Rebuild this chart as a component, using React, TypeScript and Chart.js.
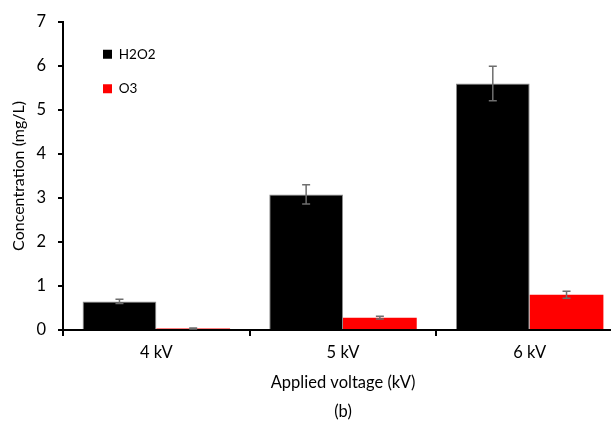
import React, { useEffect, useRef } from "react";
import { Chart, registerables } from "chart.js";

Chart.register(...registerables);

const categories = ["4 kV", "5 kV", "6 kV"];
const h2o2 = [0.65, 3.08, 5.6];
const o3 = [0.035, 0.28, 0.8];
const errH2O2 = [0.05, 0.22, 0.39];
const errO3 = [0.01, 0.03, 0.08];
const yTicks = [0, 1, 2, 3, 4, 5, 6, 7];

const FONT = "Lato, 'Open Sans', sans-serif";

export default function App() {
  const ref = useRef<HTMLCanvasElement | null>(null);
  useEffect(() => {
    if (!ref.current) return;
    const errors = [errH2O2, errO3];
    const errorBars = {
      id: "errorBars",
      afterDatasetsDraw(chart: any) {
        const ctx = chart.ctx;
        const ys = chart.scales.y;
        ctx.save();
        ctx.strokeStyle = "#6e6e6e";
        ctx.lineWidth = 1.5;
        chart.data.datasets.forEach((ds: any, i: number) => {
          const meta = chart.getDatasetMeta(i);
          meta.data.forEach((bar: any, j: number) => {
            const v = ds.data[j];
            const e = errors[i][j];
            const t = ys.getPixelForValue(v + e);
            const b = ys.getPixelForValue(v - e);
            const x = bar.x;
            ctx.beginPath();
            ctx.moveTo(x, t);
            ctx.lineTo(x, b);
            ctx.moveTo(x - 4, t);
            ctx.lineTo(x + 4, t);
            ctx.moveTo(x - 4, b);
            ctx.lineTo(x + 4, b);
            ctx.stroke();
          });
        });
        ctx.restore();
      },
    };
    const legendPlace = {
      id: "legendPlace",
      afterLayout(chart: any) {
        const l = chart.legend;
        if (!l) return;
        const w = l.width;
        l.left = 82;
        l.top = 26.5;
        l.right = l.left + w;
        l.bottom = l.top + 200;
      },
    };
    const chart = new Chart(ref.current, {
      type: "bar",
      data: {
        labels: categories,
        datasets: [
          {
            label: "H2O2",
            data: h2o2,
            backgroundColor: "#000000",
            borderColor: "#8c8c8c",
            borderWidth: 1,
            categoryPercentage: 0.79,
            barPercentage: 1.0,
          },
          {
            label: "O3",
            data: o3,
            backgroundColor: "#ff0000",
            borderColor: "#ff0000",
            borderWidth: 0,
            categoryPercentage: 0.79,
            barPercentage: 1.0,
          },
        ],
      },
      options: {
        responsive: false,
        animation: false,
        devicePixelRatio: 1,
        layout: { padding: { top: 17, right: 7, bottom: 0, left: 0 } },
        plugins: {
          tooltip: { enabled: false },
          legend: {
            display: true,
            position: "chartArea",
            align: "start",
            labels: {
              boxWidth: 9,
              boxHeight: 9,
              padding: 21,
              color: "#000",
              font: { family: FONT, size: 13.5 },
              generateLabels: (chart: any) =>
                chart.data.datasets.map((ds: any, i: number) => ({
                  text: ds.label,
                  fillStyle: ds.backgroundColor,
                  strokeStyle: ds.backgroundColor,
                  lineWidth: 0,
                  hidden: false,
                  datasetIndex: i,
                  fontColor: "#000",
                })),
            },
          },
        },
        scales: {
          x: {
            afterFit: (s: any) => {
              s.height = 98;
            },
            grid: {
              offset: true,
              drawOnChartArea: false,
              drawTicks: true,
              tickLength: 6,
              color: "#000",
              lineWidth: 2,
            },
            border: { display: true, color: "#000", width: 2 },
            ticks: {
              color: "#000",
              padding: 7,
              font: { family: FONT, size: 16.5 },
            },
            title: {
              display: true,
              text: ["Applied voltage (kV)", "(b)"],
              color: "#000",
              font: { family: FONT, size: 16.5, lineHeight: 1.75 },
              padding: { top: 0, bottom: 2 },
            },
          },
          y: {
            min: 0,
            max: 7,
            afterFit: (s: any) => {
              s.width = 63;
            },
            afterBuildTicks: (s: any) => {
              s.ticks = yTicks.map((v) => ({ value: v }));
            },
            grid: {
              drawOnChartArea: false,
              drawTicks: true,
              tickLength: 5,
              color: "#000",
              lineWidth: 2,
            },
            border: { display: true, color: "#000", width: 2 },
            ticks: {
              color: "#000",
              padding: 12,
              font: { family: FONT, size: 16.5 },
            },
            title: {
              display: true,
              text: "Concentration (mg/L)",
              color: "#000",
              font: { family: FONT, size: 16, lineHeight: 1.2 },
              padding: { top: 9, bottom: 0 },
            },
          },
        },
      },
      plugins: [errorBars, legendPlace],
    } as any);
    return () => chart.destroy();
  }, []);
  return (
    <div
      style={{
        position: "fixed",
        left: 0,
        top: 0,
        width: 611,
        height: 428,
        overflow: "hidden",
        background: "#fff",
      }}
    >
      <canvas ref={ref} width={630} height={428} style={{ display: "block" }} />
    </div>
  );
}
